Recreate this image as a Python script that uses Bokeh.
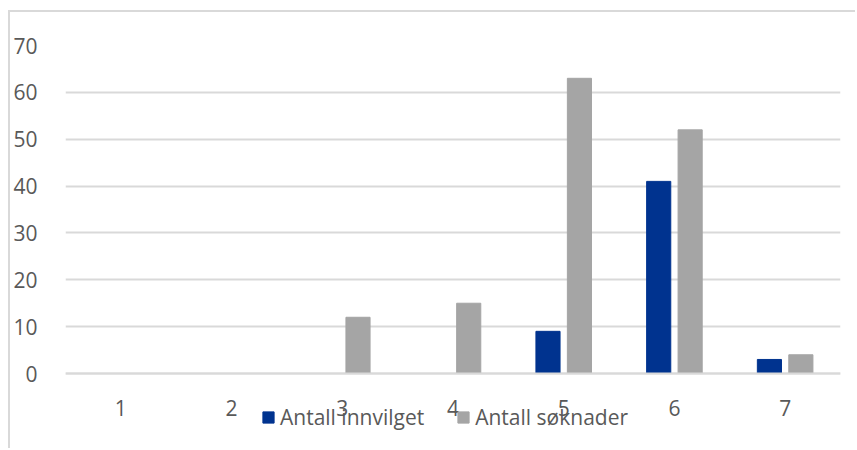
from bokeh.plotting import figure
from bokeh.models import FactorRange, Range1d, Legend, LegendItem, ColumnDataSource, FixedTicker
from bokeh.transform import dodge
from bokeh.embed import file_html
from bokeh.resources import INLINE

categories = ["1", "2", "3", "4", "5", "6", "7"]
innvilget = [0, 0, 0, 0, 9, 41, 3]
soknader = [0, 0, 12, 15, 63, 52, 4]
y_ticks = [0, 10, 20, 30, 40, 50, 60, 70]

src = ColumnDataSource(dict(cat=categories, innvilget=innvilget, soknader=soknader))

FONT = "Open Sans"
TXT = "#595959"

p = figure(width=847, height=438, output_backend="svg", toolbar_location=None,
           x_range=FactorRange(factors=categories, range_padding=0),
           y_range=Range1d(-16.43, 70),
           min_border_left=54, min_border_right=17, min_border_top=33, min_border_bottom=0)
p.styles = {"margin-top": "10px", "margin-left": "8px",
            "border-top": "2px solid #d9d9d9", "border-left": "2px solid #d9d9d9"}
p.outline_line_color = None

r1 = p.vbar(x=dodge("cat", -0.142, range=p.x_range), top="innvilget", width=0.218,
            source=src, fill_color="#00338F", line_color="#00338F")
r2 = p.vbar(x=dodge("cat", 0.142, range=p.x_range), top="soknader", width=0.218,
            source=src, fill_color="#A5A5A5", line_color="#A5A5A5")

ticker = FixedTicker(ticks=y_ticks)
p.yaxis.ticker = ticker
p.ygrid.ticker = ticker
p.ygrid.grid_line_color = "#D9D9D9"
p.ygrid.grid_line_width = 2
p.xgrid.grid_line_color = None

for ax in (p.xaxis, p.yaxis):
    ax.major_tick_line_color = None
    ax.minor_tick_line_color = None
    ax.major_label_text_font = FONT
    ax.major_label_text_font_size = "21px"
    ax.major_label_text_color = TXT
p.yaxis.axis_line_color = None
p.yaxis.major_label_standoff = 22
p.xaxis.fixed_location = 0
p.xaxis.axis_line_color = "#D9D9D9"
p.xaxis.axis_line_width = 2
p.xaxis.major_label_standoff = 20

legend = Legend(items=[LegendItem(label="Antall innvilget", renderers=[r1]),
                       LegendItem(label="Antall søknader", renderers=[r2])],
                orientation="horizontal", location=(196, 19),
                padding=0, margin=0, spacing=32, label_standoff=5,
                glyph_width=14, glyph_height=14,
                label_text_font=FONT, label_text_font_size="21px", label_text_color=TXT,
                border_line_color=None, background_fill_alpha=0)
p.add_layout(legend, "center")

open("out.html", "w").write(file_html(p, INLINE))
